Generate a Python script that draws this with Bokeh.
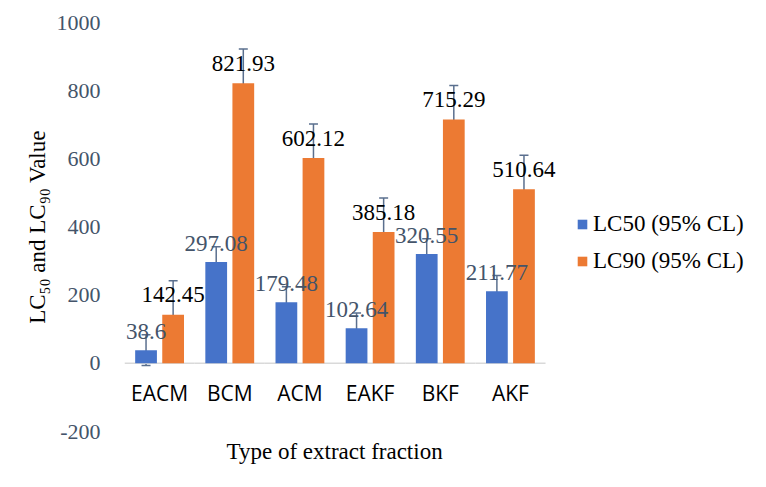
from bokeh.plotting import figure
from bokeh.models import (ColumnDataSource, Range1d, Whisker, TeeHead,
                          Legend, LegendItem, FixedTicker, Title)
from bokeh.transform import dodge
from bokeh.core.properties import value
from bokeh.embed import file_html
from bokeh.resources import INLINE

categories = ["EACM", "BCM", "ACM", "EAKF", "BKF", "AKF"]
lc50 = [38.6, 297.08, 179.48, 102.64, 320.55, 211.77]
lc90 = [142.45, 821.93, 602.12, 385.18, 715.29, 510.64]
err50 = [45, 45, 45, 45, 45, 46]
err90 = [100, 100, 100, 100, 100, 100]
series_names = ["LC50 (95% CL)", "LC90 (95% CL)"]
y_ticks = [-200, 0, 200, 400, 600, 800, 1000]

idx = list(range(len(categories)))
src = ColumnDataSource(dict(
    pos=idx,
    lc50=lc50, lc90=lc90,
    lo50=[v - e for v, e in zip(lc50, err50)], hi50=[v + e for v, e in zip(lc50, err50)],
    lo90=[v - e for v, e in zip(lc90, err90)], hi90=[v + e for v, e in zip(lc90, err90)],
    t50=[str(v) for v in lc50], t90=[str(v) for v in lc90],
    zero=[0] * len(idx),
))

SERIF = "Liberation Serif"
SLATE = "#44546a"

W, H = 758, 479
LEFT, TOP, BOTTOM = 124, 22, 431
CAT_PX = 70.17
x_end = -0.5 + (W - LEFT) / CAT_PX

p = figure(width=W, height=H, output_backend="svg", toolbar_location=None,
           x_range=Range1d(-0.5, x_end), y_range=Range1d(-200, 1000),
           min_border_left=LEFT, min_border_right=0, min_border_top=TOP,
           min_border_bottom=H - BOTTOM)
p.outline_line_color = None
p.grid.visible = False
p.background_fill_color = "white"
p.border_fill_color = "white"

# x axis line at y = 0 spanning the categories
p.segment(x0=dodge("pos", -0.5), x1=dodge("pos", 0.5), y0="zero", y1="zero",
          source=src, line_color="#d9d9d9", line_width=1.5)

off = 0.193
w = 0.31
BLUE = "#4673c9"
ORANGE = "#ec7a33"
r50 = p.vbar(x=dodge("pos", -off), top="lc50", width=w, source=src,
             fill_color=BLUE, line_color=None)
r90 = p.vbar(x=dodge("pos", off), top="lc90", width=w, source=src,
             fill_color=ORANGE, line_color=None)

ECOL = "#5a6f8e"
for lo, hi, o in (("lo50", "hi50", -off), ("lo90", "hi90", off)):
    wk = Whisker(base=dodge("pos", o), lower=lo, upper=hi, source=src,
                 line_color=ECOL, line_width=1.5,
                 upper_head=TeeHead(size=9, line_color=ECOL, line_width=1.5),
                 lower_head=TeeHead(size=9, line_color=ECOL, line_width=1.5))
    p.add_layout(wk)

p.text(x=dodge("pos", -off), y="lc50", text="t50", source=src,
       text_align="center", text_baseline="alphabetic", y_offset=-19,
       text_font=value(SERIF), text_font_size="23px", text_color=SLATE)
p.text(x=dodge("pos", off), y="lc90", text="t90", source=src,
       text_align="center", text_baseline="alphabetic", y_offset=-20,
       text_font=value(SERIF), text_font_size="23px", text_color="black")

xa = p.xaxis[0]
xa.fixed_location = 0
xa.ticker = FixedTicker(ticks=idx)
xa.major_label_overrides = {i: c for i, c in zip(idx, categories)}
xa.axis_line_color = None
xa.major_tick_line_color = None
xa.minor_tick_line_color = None
xa.major_label_text_font = "Open Sans"
xa.major_label_text_font_size = "21px"
xa.major_label_text_color = "black"
xa.major_label_standoff = 10

p.add_layout(Title(text="Type of extract fraction", align="left", offset=102,
                   text_font=SERIF, text_font_style="normal", text_font_size="23px",
                   text_color="black"), "below")

ya = p.yaxis[0]
ya.ticker = FixedTicker(ticks=y_ticks)
ya.major_label_overrides = {t: str(t) for t in y_ticks}
ya.axis_line_color = None
ya.major_tick_line_color = None
ya.minor_tick_line_color = None
ya.major_label_text_font = SERIF
ya.major_label_text_font_size = "22px"
ya.major_label_text_color = SLATE
ya.major_label_standoff = 18
ya.axis_label = "LC\u2085\u2080 and LC\u2089\u2080 Value"
ya.axis_label_text_font = SERIF
ya.axis_label_text_font_style = "normal"
ya.axis_label_text_font_size = "23px"
ya.axis_label_text_color = "black"
ya.axis_label_standoff = 4

legend = Legend(items=[LegendItem(label=series_names[0], renderers=[r50]),
                       LegendItem(label=series_names[1], renderers=[r90])],
                location=(452, 157), orientation="vertical",
                glyph_width=12, glyph_height=12, label_standoff=5,
                label_text_font=SERIF, label_text_font_size="23px", label_text_color="black",
                label_height=26, spacing=11, padding=0, margin=0,
                border_line_color=None, background_fill_alpha=0)
p.add_layout(legend)

open("out.html", "w").write(file_html(p, INLINE))
